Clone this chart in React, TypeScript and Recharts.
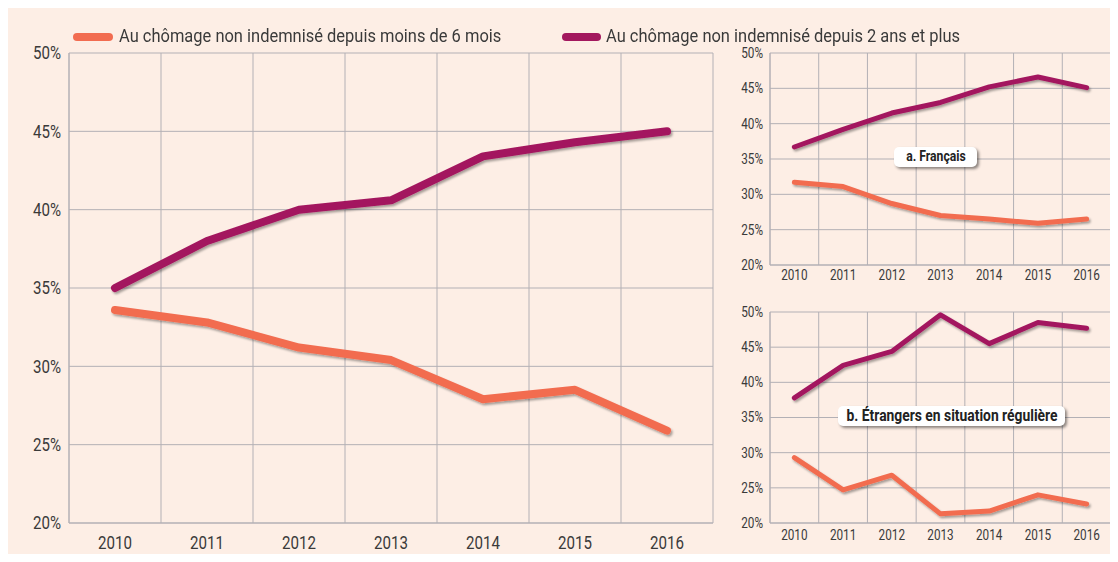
import React from 'react';
import { LineChart, Line, XAxis, YAxis, CartesianGrid, ReferenceLine } from 'recharts';

const years = [2010, 2011, 2012, 2013, 2014, 2015, 2016];
const yTicks = [20, 25, 30, 35, 40, 45, 50];

// Ensemble
const totalShort = [33.6, 32.8, 31.2, 30.4, 27.9, 28.5, 25.9];
const totalLong = [35.0, 38.0, 40.0, 40.6, 43.4, 44.3, 45.0];
// a. Français
const frShort = [31.7, 31.1, 28.7, 27.0, 26.5, 25.9, 26.5];
const frLong = [36.7, 39.2, 41.5, 43.0, 45.2, 46.6, 45.1];
// b. Étrangers en situation régulière
const etShort = [29.3, 24.7, 26.8, 21.3, 21.7, 24.0, 22.7];
const etLong = [37.8, 42.4, 44.4, 49.6, 45.5, 48.5, 47.7];

const legendShort = 'Au chômage non indemnisé depuis moins de 6 mois';
const legendLong = 'Au chômage non indemnisé depuis 2 ans et plus';
const labelA = 'a. Français';
const labelB = 'b. Étrangers en situation régulière';
const title = 'ÉVOLUTION DES DURÉES EN SITUATION DE CHÔMAGE NON INDEMNISÉ';
const titlePrefix = 'GRAPHIQUE 2a.';

const ORANGE = '#f26c50';
const PURPLE = '#a3185e';
const GRID = '#b3b0b5';
const BG = '#fdeee5';
const TXT = '#3a3a3a';
const FONT = 'Roboto, "Noto Sans", sans-serif';
const SQUEEZE = 0.84;

const build = (s: number[], l: number[]) => years.map((y, i) => ({ year: y, short: s[i], long: l[i] }));
const bounds = [...years.map((y) => y - 0.5), years[years.length - 1] + 0.5];

const makeTick = (fontSize: number, axis: 'x' | 'y') => (props: any) => {
  const { x, y, payload, textAnchor } = props;
  const label = axis === 'y' ? `${payload.value}%` : `${payload.value}`;
  return (
    <text
      x={0}
      y={0}
      transform={`translate(${x},${y}) scale(${SQUEEZE},1)`}
      textAnchor={textAnchor}
      dy={axis === 'x' ? '0.71em' : '0.355em'}
      fill={TXT}
      fontSize={fontSize}
      fontFamily={FONT}
    >
      {label}
    </text>
  );
};

type PanelProps = {
  data: { year: number; short: number; long: number }[];
  width: number;
  height: number;
  margin: { top: number; right: number; bottom: number; left: number };
  yWidth: number;
  xHeight: number;
  fontSize: number;
  xMargin: number;
  yMargin: number;
  strokeWidth: number;
  id: string;
};

function Panel(p: PanelProps) {
  return (
    <LineChart width={p.width} height={p.height} data={p.data} margin={p.margin}>
      <defs>
        <filter id={p.id} x="-10%" y="-10%" width="120%" height="130%">
          <feDropShadow dx="1.5" dy="2" stdDeviation="1.2" floodColor="#000" floodOpacity="0.35" />
        </filter>
      </defs>
      <CartesianGrid vertical={false} stroke={GRID} strokeWidth={1} />
      {bounds.map((b) => (
        <ReferenceLine key={b} x={b} stroke={GRID} strokeWidth={1} />
      ))}
      <XAxis
        dataKey="year"
        type="number"
        domain={[bounds[0], bounds[bounds.length - 1]]}
        ticks={years}
        tickLine={false}
        tickSize={0}
        tickMargin={p.xMargin}
        height={p.xHeight}
        axisLine={{ stroke: GRID }}
        tick={makeTick(p.fontSize, 'x')}
        allowDataOverflow
      />
      <YAxis
        type="number"
        domain={[20, 50]}
        ticks={yTicks}
        tickLine={false}
        tickSize={0}
        tickMargin={p.yMargin}
        width={p.yWidth}
        axisLine={{ stroke: GRID }}
        tick={makeTick(p.fontSize, 'y')}
        allowDataOverflow
      />
      <Line
        dataKey="short"
        stroke={ORANGE}
        strokeWidth={p.strokeWidth}
        dot={false}
        strokeLinecap="round"
        strokeLinejoin="round"
        filter={`url(#${p.id})`}
        isAnimationActive={false}
      />
      <Line
        dataKey="long"
        stroke={PURPLE}
        strokeWidth={p.strokeWidth}
        dot={false}
        strokeLinecap="round"
        strokeLinejoin="round"
        filter={`url(#${p.id})`}
        isAnimationActive={false}
      />
    </LineChart>
  );
}

const labelBox = (left: number, top: number, width: number): React.CSSProperties => ({
  position: 'absolute',
  left,
  top,
  width,
  height: 20,
  background: '#fff',
  borderRadius: 5,
  boxShadow: '2px 2px 3px rgba(0,0,0,0.45)',
});

const labelText = (fontSize: number): React.CSSProperties => ({
  position: 'absolute',
  left: '50%',
  top: 0,
  transform: `translateX(-50%) scaleX(${SQUEEZE})`,
  fontFamily: FONT,
  fontWeight: 'bold',
  fontSize,
  color: '#222',
  lineHeight: '20px',
  whiteSpace: 'nowrap',
});

const legendText = (left: number): React.CSSProperties => ({
  position: 'absolute',
  left,
  top: 24,
  fontFamily: FONT,
  fontSize: 18,
  color: TXT,
  whiteSpace: 'nowrap',
  lineHeight: '24px',
  transform: 'scaleX(0.915)',
  transformOrigin: 'left center',
});

export default function App() {
  return (
    <div style={{ position: 'relative', width: 1118, height: 562, margin: -8, background: '#fff', overflow: 'hidden' }}>
      {/* panel background */}
      <div style={{ position: 'absolute', left: 7, top: 7, width: 1111, height: 555, background: BG, borderLeft: '1px solid #cfcfcf', borderTop: '1px solid #d6d6d6' }} />
      {/* cropped title banner */}
      <div style={{ position: 'absolute', left: 7, top: 0, width: 880, height: 8, background: '#f26b4d', overflow: 'hidden' }}>
        <div style={{ position: 'absolute', left: 38, top: -16, whiteSpace: 'nowrap', fontFamily: FONT, fontWeight: 'bold', fontSize: 22, letterSpacing: 0.5 }}>
          <span style={{ color: '#1d4f9c' }}>{titlePrefix} </span>
          <span style={{ color: '#fff' }}>{title}</span>
        </div>
      </div>
      {/* legend */}
      <div style={{ position: 'absolute', left: 73, top: 33, width: 40, height: 8, borderRadius: 4, background: ORANGE }} />
      <div style={legendText(119)}>{legendShort}</div>
      <div style={{ position: 'absolute', left: 562, top: 33, width: 39, height: 8, borderRadius: 4, background: PURPLE }} />
      <div style={legendText(606)}>{legendLong}</div>

      {/* main chart */}
      <div style={{ position: 'absolute', left: 0, top: 0 }}>
        <Panel
          data={build(totalShort, totalLong)}
          width={720}
          height={562}
          margin={{ top: 53, right: 7, bottom: 9, left: 0 }}
          yWidth={69}
          xHeight={30}
          fontSize={18}
          xMargin={13}
          yMargin={8}
          strokeWidth={8}
          id="shMain"
        />
      </div>
      {/* a. Français */}
      <div style={{ position: 'absolute', left: 720, top: 40 }}>
        <Panel
          data={build(frShort, frLong)}
          width={398}
          height={250}
          margin={{ top: 13, right: 7, bottom: 3, left: 0 }}
          yWidth={50}
          xHeight={22}
          fontSize={14}
          xMargin={5}
          yMargin={7}
          strokeWidth={5}
          id="shA"
        />
      </div>
      {/* b. Étrangers */}
      <div style={{ position: 'absolute', left: 720, top: 290 }}>
        <Panel
          data={build(etShort, etLong)}
          width={398}
          height={272}
          margin={{ top: 22, right: 7, bottom: 16, left: 0 }}
          yWidth={50}
          xHeight={23}
          fontSize={14}
          xMargin={7}
          yMargin={7}
          strokeWidth={5}
          id="shB"
        />
      </div>
      <div style={labelBox(894, 147, 83)}>
        <div style={labelText(14.5)}>{labelA}</div>
      </div>
      <div style={labelBox(838, 406, 227)}>
        <div style={labelText(16.5)}>{labelB}</div>
      </div>
    </div>
  );
}
